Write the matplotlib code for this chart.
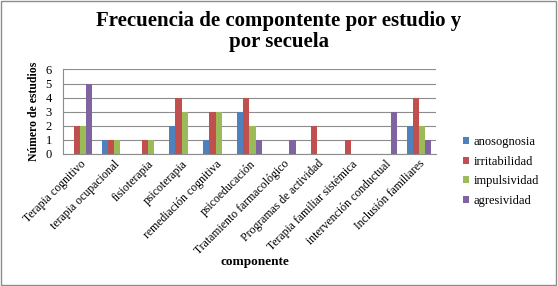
import matplotlib.pyplot as plt
import numpy as np
from matplotlib.patches import Rectangle

categories = ['Terapia cognitivo', 'terapia ocupacional', 'fisioterapia', 'psicoterapia',
              'remediación cognitiva', 'psicoeducación', 'Tratamiento farmacológico',
              'Programas de actividad', 'Terapia familiar sistémica',
              'intervención conductual', 'Inclusión familiares']
series_names = ['anosognosia', 'irritabilidad', 'impulsividad', 'agresividad']
anosognosia = [0, 1, 0, 2, 1, 3, 0, 0, 0, 0, 2]
irritabilidad = [2, 1, 1, 4, 3, 4, 0, 2, 1, 0, 4]
impulsividad = [2, 1, 1, 3, 3, 2, 0, 0, 0, 0, 2]
agresividad = [5, 0, 0, 0, 0, 1, 1, 0, 0, 3, 1]

colors = ['#4F81BD', '#C0504D', '#9BBB59', '#8064A2']
serif = ['Liberation Serif', 'DejaVu Serif']
plt.rcParams['font.family'] = serif

fig = plt.figure(figsize=(5.58, 2.86), dpi=100)
ax = fig.add_axes([0.113, 0.462, 0.668, 0.295])

x = np.arange(len(categories))
w = 1 / 5.5
for i, (name, vals) in enumerate(zip(series_names,
                                     [anosognosia, irritabilidad, impulsividad, agresividad])):
    ax.bar(x + (i - 1.5) * w, vals, width=w, color=colors[i], label=name, zorder=3)

ax.set_xlim(-0.5, len(categories) - 0.5)
ax.set_ylim(0, 6)
ax.set_yticks(range(7))
ax.yaxis.grid(True, color='#8c8c8c', linewidth=0.8, zorder=0)
ax.tick_params(axis='y', length=0, labelsize=9, pad=8)
ax.tick_params(axis='x', length=0, labelsize=8.5, pad=3)
ax.set_xticks(x)
ax.set_xticklabels(categories, rotation=45, ha='right', rotation_mode='anchor')
for s in ['top', 'right']:
    ax.spines[s].set_visible(False)
ax.spines['left'].set_color('#8c8c8c')
ax.spines['bottom'].set_color('#8c8c8c')

ax.set_ylabel('Número de estudios', fontsize=8.5, fontweight='bold', labelpad=4)
fig.text(0.457, 0.084, 'componente', ha='center', va='center', fontsize=9.5,
         fontweight='bold')
fig.text(0.5, 0.89, 'Frecuencia de compontente por estudio y\npor secuela', ha='center',
         va='center', fontsize=15, fontweight='bold', linespacing=1.1)

ax.legend(loc='center left', frameon=False,
          fontsize=9, handlelength=0.5, handleheight=0.5, handletextpad=0.3,
          labelspacing=0.6)
leg = ax.get_legend()
leg.set_bbox_to_anchor((0.81, 0.40), transform=fig.transFigure)

fig.patches.append(Rectangle((0.002, 0.003), 0.995, 0.993, transform=fig.transFigure,
                             fill=False, edgecolor='#8c8c8c', linewidth=1.0))

plt.savefig('out.png', dpi=100)
